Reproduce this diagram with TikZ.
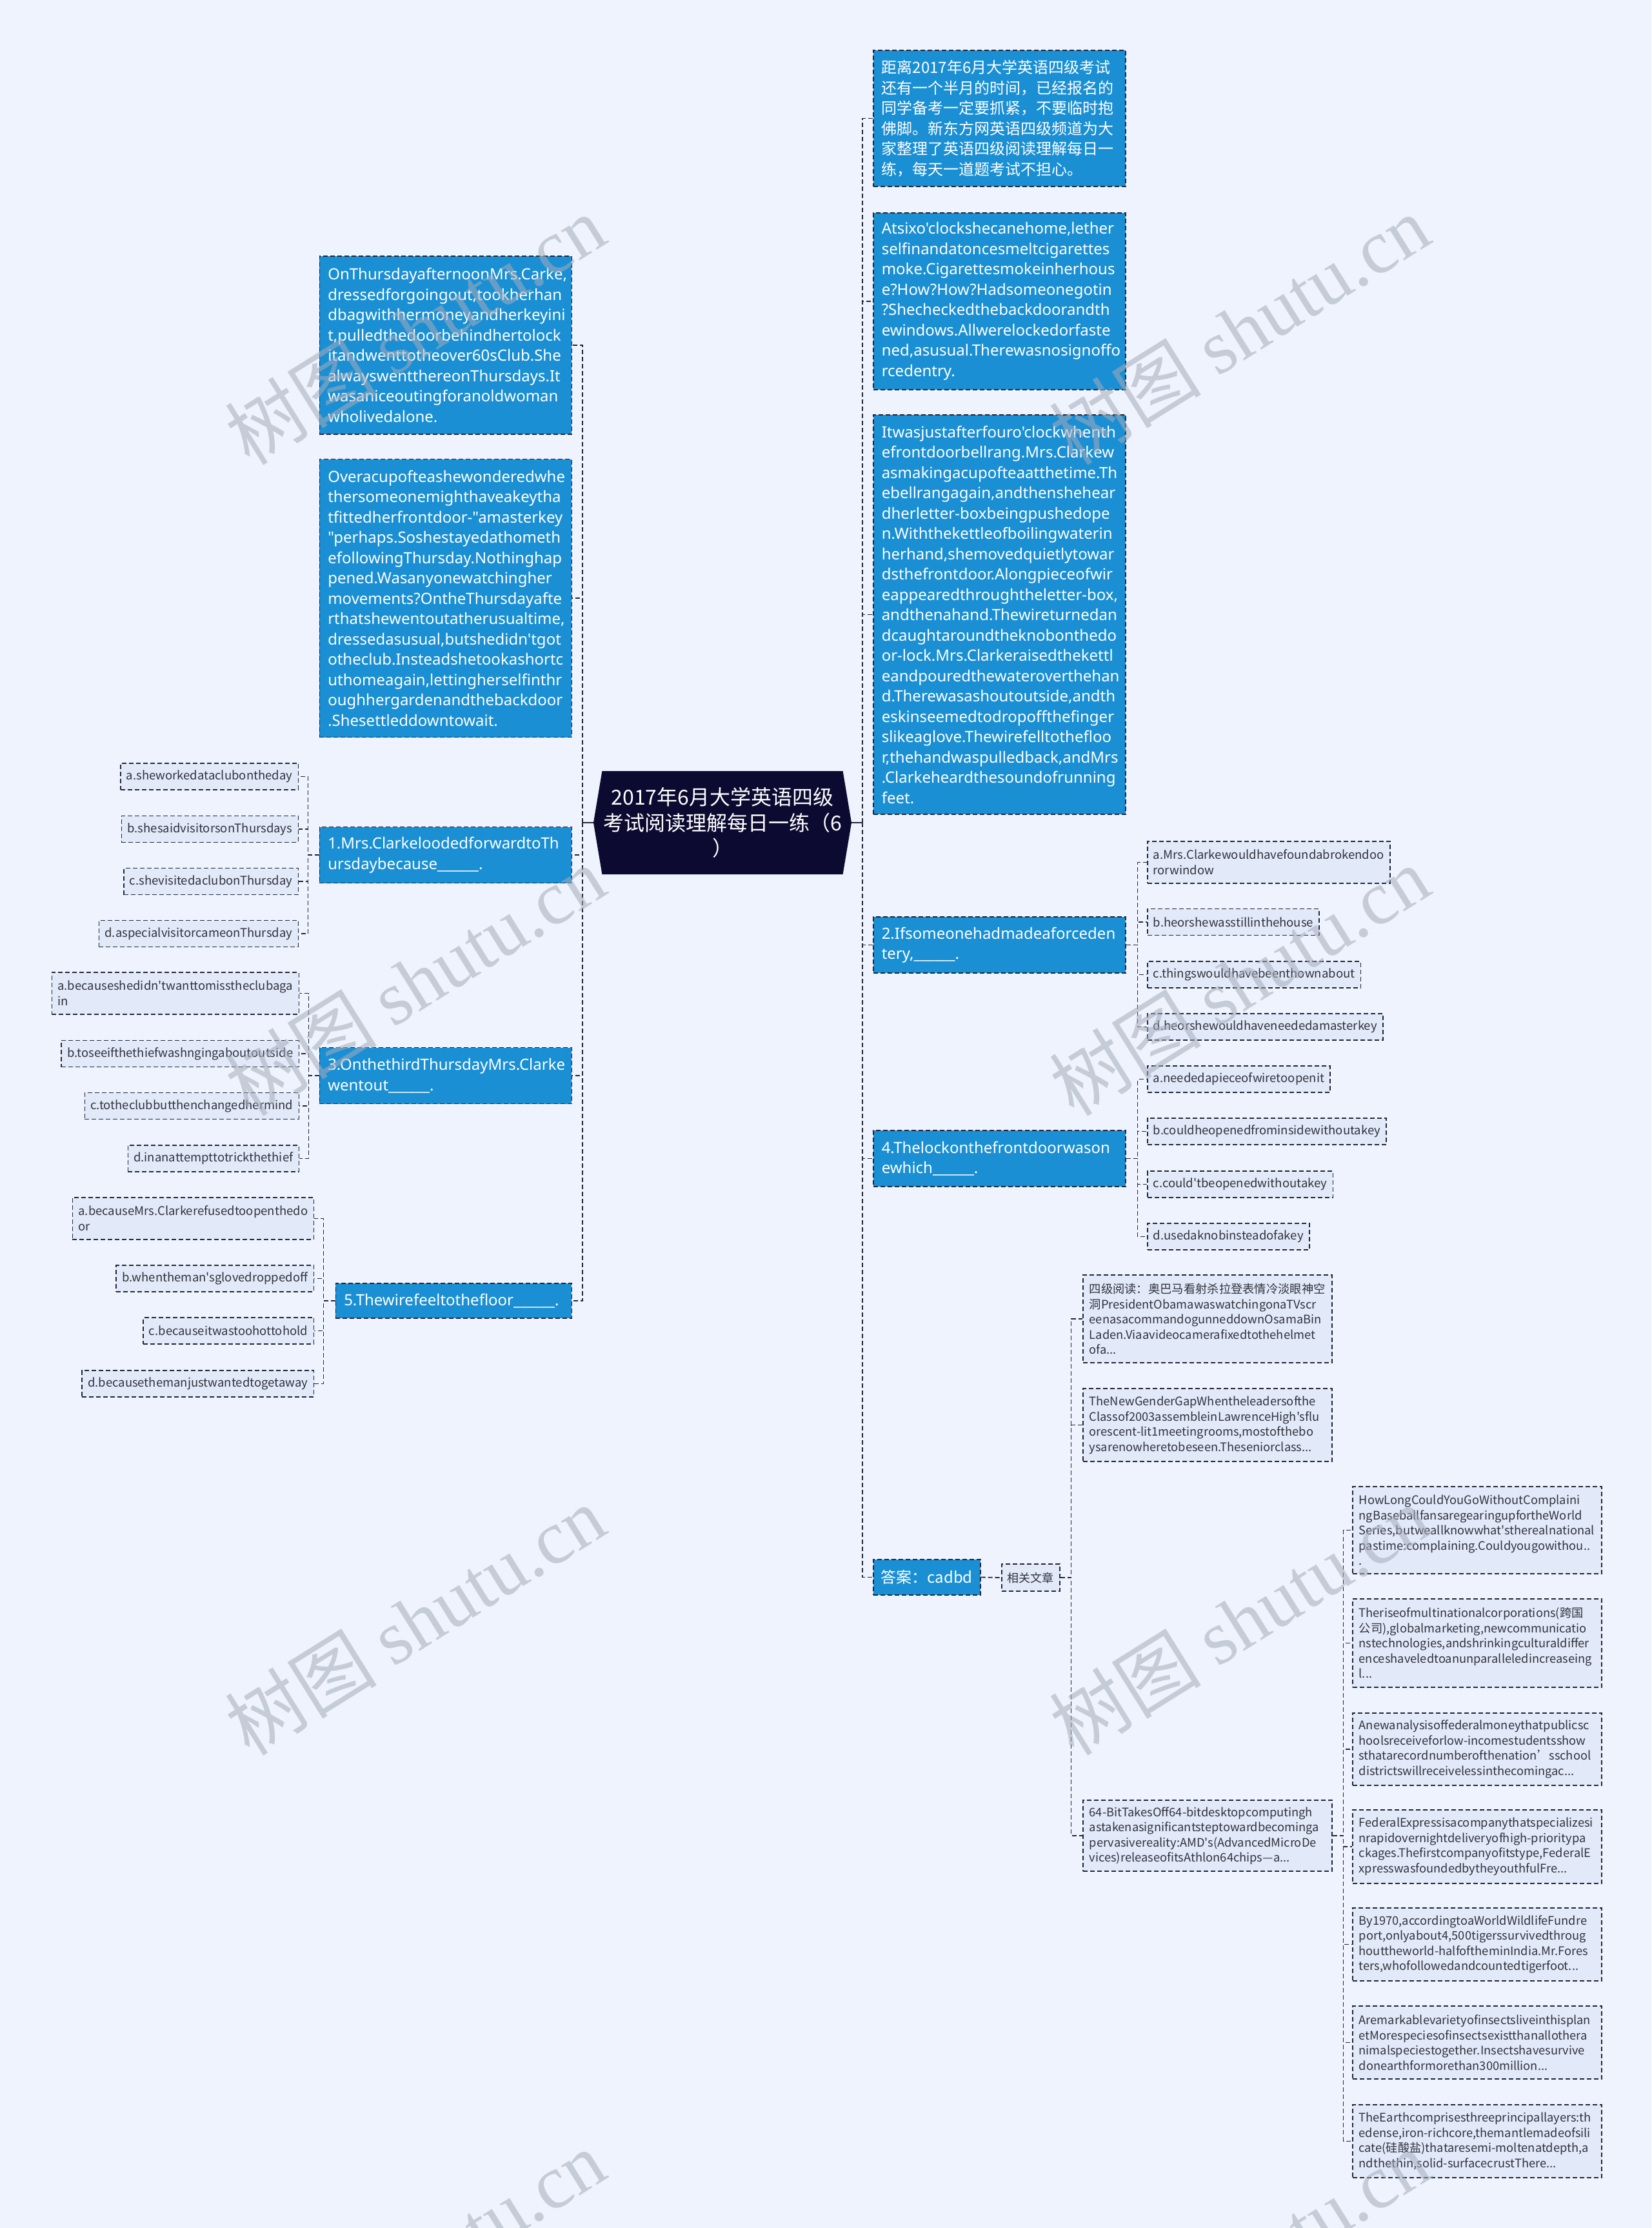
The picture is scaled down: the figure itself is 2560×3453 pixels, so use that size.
\documentclass[tikz,border=0pt]{standalone}
\usepackage{fontspec}
\setmainfont{Noto Sans CJK SC}[Ligatures=TeXOff]
\newfontfamily\latinfont{Noto Sans}[Ligatures=TeXOff]
\newfontfamily\markfont{Liberation Serif}
\usetikzlibrary{positioning,calc,shapes.symbols}
\definecolor{pagebg}{RGB}{238,243,253}
\definecolor{topicblue}{RGB}{26,143,212}
\definecolor{leafbg}{RGB}{226,234,250}
\definecolor{rootnavy}{RGB}{12,10,48}
\definecolor{edgecol}{RGB}{35,38,55}
\definecolor{leaftext}{RGB}{50,50,60}
\definecolor{markgray}{RGB}{165,172,186}
\hyphenpenalty=10000
\exhyphenpenalty=10000

\begin{document}
\begin{tikzpicture}[x=1pt, y=-1pt,
    topic/.style={draw=edgecol, line width=1.5pt, dash pattern=on 7pt off 4pt,
      fill=topicblue, text=white, align=left, inner xsep=13pt, inner ysep=3pt,
      font=\latinfont\fontsize{24}{31.5}\selectfont},
    passage/.style={topic, text width=365pt},
    leaf/.style={draw=edgecol, line width=1.5pt, dash pattern=on 7pt off 4pt,
      fill=leafbg, text=leaftext, align=left, inner xsep=9pt, inner ysep=3pt,
      minimum height=41pt, font=\fontsize{18.5}{24}\selectfont},
    note/.style={leaf, inner xsep=10pt, text width=366pt, font=\fontsize{18.3}{23.5}\selectfont},
    link/.style={draw=edgecol, line width=1.8pt, dash pattern=on 7pt off 4pt},
    stem/.style={draw=edgecol, line width=2.5pt},
    watermark/.style={text=markgray, opacity=0.55, rotate=32, font=\fontsize{118}{118}\selectfont}]
  \useasboundingbox (0,0) rectangle (2560,3453);
  \fill[pagebg] (0,0) rectangle (2560,3453);

  % Central topic
  \node[signal, signal to=west and east, signal pointer angle=161, fill=rootnavy,
    text=white, minimum width=400pt, minimum height=160pt, inner sep=0pt,
    align=center, font=\fontsize{32}{39.5}\selectfont] (root) at (1120,1275)
    {2017年6月大学英语四级\\考试阅读理解每日一练（6\\）};
  \coordinate (tl) at (903,1275);
  \coordinate (tr) at (1337,1275);

  % Left branch: passage and questions 1, 3, 5
  \node[passage, anchor=east, minimum height=276pt] (l1) at (887,535)
    {OnThursdayafternoonMrs.Carke,\\dressedforgoingout,tookherhan\\dbagwithhermoneyandherkeyini\\t,pulledthedoorbehindhertolock\\itandwenttotheover60sClub.She\\alwayswentthereonThursdays.It\\wasaniceoutingforanoldwoman\\wholivedalone.};
  \node[passage, anchor=east, minimum height=431pt] (l2) at (887,927)
    {Overacupofteashewonderedwhe\\thersomeonemighthaveakeytha\\tfittedherfrontdoor-"amasterkey\\"perhaps.Soshestayedathometh\\efollowingThursday.Nothinghap\\pened.Wasanyonewatchingher\\movements?OntheThursdayafte\\rthatshewentoutatherusualtime,\\dressedasusual,butshedidn'tgot\\otheclub.Insteadshetookashortc\\uthomeagain,lettingherselfinthr\\oughhergardenandthebackdoor\\.Shesettleddowntowait.};
  \node[passage, anchor=east, minimum height=87pt] (q1) at (887,1325)
    {1.Mrs.ClarkeloodedforwardtoTh\\ursdaybecause\_\_\_\_\_\_.};
  \node[passage, anchor=east, minimum height=87pt] (q3) at (887,1667)
    {3.OnthethirdThursdayMrs.Clarke\\wentout\_\_\_\_\_\_.};
  \node[passage, anchor=east, text width=340pt, minimum height=54pt] (q5) at (887,2016)
    {5.Thewirefeeltothefloor\_\_\_\_\_\_.};

  % Options of question 1
  \node[leaf, anchor=east] (q1a) at (463,1203.5) {a.sheworkedataclubontheday};
  \node[leaf, anchor=east] (q1b) at (463,1285) {b.shesaidvisitorsonThursdays};
  \node[leaf, anchor=east] (q1c) at (463,1366) {c.shevisitedaclubonThursday};
  \node[leaf, anchor=east] (q1d) at (463,1447) {d.aspecialvisitorcameonThursday};
  % Options of question 3
  \node[leaf, anchor=east, minimum height=65pt] (q3a) at (464,1539.5) {a.becauseshedidn'twanttomisstheclubaga\\in};
  \node[leaf, anchor=east] (q3b) at (464,1633) {b.toseeifthethiefwashngingaboutoutside};
  \node[leaf, anchor=east] (q3c) at (464,1714) {c.totheclubbutthenchangedhermind};
  \node[leaf, anchor=east] (q3d) at (464,1795.5) {d.inanattempttotrickthethief};
  % Options of question 5
  \node[leaf, anchor=east, minimum height=65pt] (q5a) at (487,1888.5) {a.becauseMrs.Clarkerefusedtoopenthedo\\or};
  \node[leaf, anchor=east] (q5b) at (487,1981.5) {b.whentheman'sglovedroppedoff};
  \node[leaf, anchor=east] (q5c) at (487,2062.5) {c.becauseitwastoohottohold};
  \node[leaf, anchor=east] (q5d) at (487,2144.5) {d.becausethemanjustwantedtogetaway};

  % Right branch: intro, passages, questions 2, 4 and the answer
  \node[passage, anchor=west, minimum height=211pt, font=\fontsize{24}{31.5}\selectfont] (r1) at (1353,183.5)
    {距离2017年6月大学英语四级考试\\还有一个半月的时间，已经报名的\\同学备考一定要抓紧，不要临时抱\\佛脚。新东方网英语四级频道为大\\家整理了英语四级阅读理解每日一\\练，每天一道题考试不担心。};
  \node[passage, anchor=west, minimum height=274pt] (r2) at (1353,467)
    {Atsixo'clockshecanehome,lether\\selfinandatoncesmeltcigarettes\\moke.Cigarettesmokeinherhous\\e?How?How?Hadsomeonegotin\\?Shecheckedthebackdoorandth\\ewindows.Allwerelockedorfaste\\ned,asusual.Therewasnosignoffo\\rcedentry.};
  \node[passage, anchor=west, minimum height=619pt] (r3) at (1353,952.5)
    {Itwasjustafterfouro'clockwhenth\\efrontdoorbellrang.Mrs.Clarkew\\asmakingacupofteaatthetime.Th\\ebellrangagain,andthenshehear\\dherletter-boxbeingpushedope\\n.Withthekettleofboilingwaterin\\herhand,shemovedquietlytowar\\dsthefrontdoor.Alongpieceofwir\\eappearedthroughtheletter-box,\\andthenahand.Thewireturnedan\\dcaughtaroundtheknobonthedo\\or-lock.Mrs.Clarkeraisedthekettl\\eandpouredthewateroverthehan\\d.Therewasashoutoutside,andth\\eskinseemedtodropoffthefinger\\slikeaglove.Thewirefelltothefloo\\r,thehandwaspulledback,andMrs\\.Clarkeheardthesoundofrunning\\feet.};
  \node[passage, anchor=west, minimum height=87pt] (q2) at (1353,1464.5)
    {2.Ifsomeonehadmadeaforceden\\tery,\_\_\_\_\_\_.};
  \node[passage, anchor=west, minimum height=87pt] (q4) at (1353,1795.5)
    {4.Thelockonthefrontdoorwason\\ewhich\_\_\_\_\_\_.};
  \node[topic, anchor=west, minimum height=55pt, inner xsep=12pt,
    font=\fontsize{24}{30}\selectfont] (ans) at (1353,2444.5) {答案：cadbd};

  % Options of question 2
  \node[leaf, anchor=west, minimum height=65pt] (q2a) at (1778,1336.5) {a.Mrs.Clarkewouldhavefoundabrokendoo\\rorwindow};
  \node[leaf, anchor=west] (q2b) at (1778,1429) {b.heorshewasstillinthehouse};
  \node[leaf, anchor=west] (q2c) at (1778,1510.5) {c.thingswouldhavebeenthownabout};
  \node[leaf, anchor=west] (q2d) at (1778,1591.5) {d.heorshewouldhaveneededamasterkey};
  % Options of question 4
  \node[leaf, anchor=west] (q4a) at (1778,1672.5) {a.neededapieceofwiretoopenit};
  \node[leaf, anchor=west] (q4b) at (1778,1753.5) {b.couldheopenedfrominsidewithoutakey};
  \node[leaf, anchor=west] (q4c) at (1778,1835.5) {c.could'tbeopenedwithoutakey};
  \node[leaf, anchor=west] (q4d) at (1778,1916.5) {d.usedaknobinsteadofakey};

  % Related articles
  \node[leaf, anchor=west, minimum height=42pt, font=\fontsize{18}{22}\selectfont] (rel) at (1552,2445) {相关文章};
  \node[note, anchor=west, minimum height=136pt] (art1) at (1678,2044)
    {四级阅读：奥巴马看射杀拉登表情冷淡眼神空\\洞PresidentObamawaswatchingonaTVscr\\eenasacommandogunneddownOsamaBin\\Laden.Viaavideocamerafixedtothehelmet\\ofa...};
  \node[note, anchor=west, minimum height=113pt] (art2) at (1678,2208.5)
    {TheNewGenderGapWhentheleadersofthe\\Classof2003assembleinLawrenceHigh'sflu\\orescent-lit1meetingrooms,mostofthebo\\ysarenowheretobeseen.Theseniorclass...};
  \node[note, anchor=west, minimum height=110pt] (art3) at (1678,2845)
    {64-BitTakesOff64-bitdesktopcomputingh\\astakenasignificantsteptowardbecominga\\pervasivereality:AMD's(AdvancedMicroDe\\vices)releaseofitsAthlon64chips—a...};
  \node[note, anchor=west, minimum height=135pt] (sub1) at (2096,2371.5)
    {HowLongCouldYouGoWithoutComplaini\\ngBaseballfansaregearingupfortheWorld\\Series,butweallknowwhat'stherealnational\\pastime:complaining.Couldyougowithou..\\.};
  \node[note, anchor=west, minimum height=137pt] (sub2) at (2096,2546.5)
    {Theriseofmultinationalcorporations(跨国\\公司),globalmarketing,newcommunicatio\\nstechnologies,andshrinkingculturaldiffer\\enceshaveledtoanunparalleledincreaseing\\l...};
  \node[note, anchor=west, minimum height=112pt] (sub3) at (2096,2711)
    {Anewanalysisoffederalmoneythatpublicsc\\hoolsreceiveforlow-incomestudentsshow\\sthatarecordnumberofthenation’sschool\\districtswillreceivelessinthecomingac...};
  \node[note, anchor=west, minimum height=114pt] (sub4) at (2096,2862)
    {FederalExpressisacompanythatspecializesi\\nrapidovernightdeliveryofhigh-prioritypa\\ckages.Thefirstcompanyofitstype,FederalE\\xpresswasfoundedbytheyouthfulFre...};
  \node[note, anchor=west, minimum height=113pt] (sub5) at (2096,3013.5)
    {By1970,accordingtoaWorldWildlifeFundre\\port,onlyabout4,500tigerssurvivedthroug\\houttheworld-halfoftheminIndia.Mr.Fores\\ters,whofollowedandcountedtigerfoot...};
  \node[note, anchor=west, minimum height=113pt] (sub6) at (2096,3165.5)
    {Aremarkablevarietyofinsectsliveinthisplan\\etMorespeciesofinsectsexistthanallothera\\nimalspeciestogether.Insectshavesurvive\\donearthformorethan300million...};
  \node[note, anchor=west, minimum height=113pt] (sub7) at (2096,3318.5)
    {TheEarthcomprisesthreeprincipallayers:th\\edense,iron-richcore,themantlemadeofsili\\cate(硅酸盐)thataresemi-moltenatdepth,a\\ndthethin,solid-surfacecrustThere...};

  % Connectors
  \draw[stem] (root.west) -- (tl);
  \draw[stem] (root.east) -- (tr);
  \foreach \n in {l1,l2,q1,q3,q5} \draw[link] (tl) |- (\n.east);
  \foreach \n in {r1,r2,r3,q2,q4,ans} \draw[link] (tr) |- (\n.west);
  \foreach \n in {q1a,q1b,q1c,q1d} \draw[link] (q1.west) -- ++(-17,0) |- (\n.east);
  \foreach \n in {q3a,q3b,q3c,q3d} \draw[link] (q3.west) -- ++(-16,0) |- (\n.east);
  \foreach \n in {q5a,q5b,q5c,q5d} \draw[link] (q5.west) -- ++(-18,0) |- (\n.east);
  \foreach \n in {q2a,q2b,q2c,q2d} \draw[link] (q2.east) -- ++(18,0) |- (\n.west);
  \foreach \n in {q4a,q4b,q4c,q4d} \draw[link] (q4.east) -- ++(18,0) |- (\n.west);
  \draw[link] (ans.east) -- (rel.west);
  \foreach \n in {art1,art2,art3} \draw[link] (rel.east) -- ++(17,0) |- (\n.west);
  \foreach \n in {sub1,sub2,sub3,sub4,sub5,sub6,sub7} \draw[link] (art3.east) -- ++(17,0) |- (\n.west);

  % Watermarks
  \foreach \i/\x/\y in {1/643/511, 2/1921/511, 3/643/1520, 4/1921/1520,
                        5/643/2511, 6/1921/2511, 7/643/3510, 8/1921/3510}
    \node[watermark] (wm\i) at (\x,\y) {树图 {\markfont shutu.cn}};
\end{tikzpicture}
\end{document}
